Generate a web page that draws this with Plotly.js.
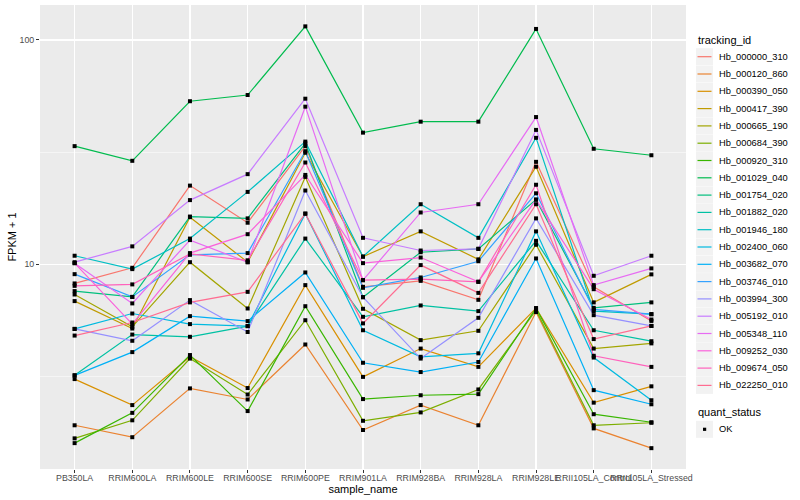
<!DOCTYPE html>
<html><head><meta charset="utf-8">
<script src="https://cdn.plot.ly/plotly-3.0.1.min.js"></script>
<style>html,body{margin:0;padding:0;background:#fff}#chart{width:800px;height:500px}</style>
</head><body><div id="chart"></div>
<script>
const categories = ['PB350LA','RRIM600LA','RRIM600LE','RRIM600SE','RRIM600PE','RRIM901LA','RRIM928BA','RRIM928LA','RRIM928LE','RRII105LA_Control','RRII105LA_Stressed'];

const trackingIds = ['Hb_000000_310','Hb_000120_860','Hb_000390_050','Hb_000417_390','Hb_000665_190','Hb_000684_390','Hb_000920_310','Hb_001029_040','Hb_001754_020','Hb_001882_020','Hb_001946_180','Hb_002400_060','Hb_003682_070','Hb_003746_010','Hb_003994_300','Hb_005192_010','Hb_005348_110','Hb_009252_030','Hb_009674_050','Hb_022250_010'];

const colors = ['#F8766D','#EA8331','#D89000','#C09B00','#A3A500','#7CAE00','#39B600','#00BB4E','#00BF7D','#00C1A3','#00BFC4','#00BAE0','#00B0F6','#35A2FF','#9590FF','#C77CFF','#E76BF3','#FA62DB','#FF62BC','#FF6C91'];

// FPKM + 1 per sample, in category order
const hb_000000_310 = [8.20, 9.63, 22.4, 15.3, 33.6, 7.92, 8.42, 6.93, 28.6, 7.92, 5.58];
const hb_000120_860 = [1.91, 1.69, 2.79, 2.49, 4.38, 1.82, 2.35, 1.91, 6.11, 1.85, 1.51];
const hb_000390_050 = [3.07, 2.35, 3.86, 2.80, 8.06, 3.14, 4.20, 3.48, 6.36, 2.41, 2.85];
const hb_000417_390 = [6.84, 5.16, 16.2, 10.2, 31.4, 10.8, 14.0, 10.5, 27.2, 6.75, 9.00];
const hb_000665_190 = [7.32, 5.25, 10.2, 6.34, 24.5, 6.32, 4.58, 5.04, 12.2, 4.20, 4.43];
const hb_000684_390 = [1.67, 2.01, 3.79, 2.62, 5.62, 2.00, 2.18, 2.76, 6.23, 1.91, 1.96];
const hb_000920_310 = [1.59, 2.17, 3.93, 2.21, 6.49, 2.50, 2.60, 2.63, 6.36, 2.14, 1.97];
const hb_001029_040 = [33.6, 28.9, 53.3, 56.8, 115, 38.6, 43.2, 43.2, 112, 32.7, 30.6];
const hb_001754_020 = [7.58, 7.14, 16.3, 16.0, 34.6, 7.12, 11.3, 11.7, 19.4, 6.38, 6.75];
const hb_001882_020 = [3.19, 4.85, 4.74, 5.29, 13.0, 5.82, 6.54, 6.17, 12.7, 5.07, 4.53];
const hb_001946_180 = [10.9, 9.50, 13.0, 21.0, 35.2, 10.8, 18.5, 13.1, 36.6, 6.17, 5.98];
const hb_002400_060 = [5.14, 6.02, 5.40, 5.29, 16.8, 5.07, 3.86, 4.00, 14.0, 3.83, 2.47];
const hb_003682_070 = [3.19, 4.05, 5.86, 5.57, 9.18, 3.63, 3.30, 3.66, 10.6, 2.74, 2.37];
const hb_003746_010 = [9.02, 7.14, 11.0, 11.2, 31.9, 7.84, 8.72, 10.3, 20.7, 6.28, 5.98];
const hb_003994_300 = [5.14, 4.55, 6.91, 4.98, 21.3, 7.12, 3.79, 5.76, 16.0, 5.92, 5.30];
const hb_005192_010 = [10.2, 12.0, 19.3, 25.2, 54.7, 13.1, 11.5, 11.7, 39.7, 8.87, 10.9];
const hb_005348_110 = [10.1, 6.68, 12.8, 10.2, 50.4, 8.48, 17.0, 18.5, 45.3, 8.06, 9.57];
const hb_009252_030 = [10.1, 5.40, 11.2, 13.6, 25.0, 10.1, 10.7, 8.34, 19.4, 7.73, 5.66];
const hb_009674_050 = [8.00, 8.12, 11.1, 10.4, 28.4, 8.48, 8.57, 8.34, 22.6, 3.90, 3.48];
const hb_022250_010 = [4.80, 5.49, 6.75, 7.52, 16.8, 5.44, 9.90, 7.44, 18.5, 4.63, 5.30];

const seriesValues = [hb_000000_310, hb_000120_860, hb_000390_050, hb_000417_390, hb_000665_190, hb_000684_390, hb_000920_310, hb_001029_040, hb_001754_020, hb_001882_020, hb_001946_180, hb_002400_060, hb_003682_070, hb_003746_010, hb_003994_300, hb_005192_010, hb_005348_110, hb_009252_030, hb_009674_050, hb_022250_010];

const yTickVals = [10, 100];
const yTickText = ['10', '100'];
const quantStatus = ['OK'];

const FONT = 'Liberation Sans, Arial, Helvetica, sans-serif';
const traces = [];
seriesValues.forEach((vals, i) => {
  traces.push({type:'scatter', mode:'lines', x:categories, y:vals, name:trackingIds[i],
    line:{color:colors[i], width:1.2}, showlegend:false, hoverinfo:'x+y+name'});
});
const allX = [], allY = [];
seriesValues.forEach(vals => vals.forEach((v, j) => { allX.push(categories[j]); allY.push(v); }));
traces.push({type:'scatter', mode:'markers', x:allX, y:allY, name:quantStatus[0],
  marker:{color:'#000', size:4, symbol:'square'}, showlegend:false});

// layout geometry (pixels)
const M = {l:40, r:114, t:5, b:31};
const PW = 800 - M.l - M.r, PH = 500 - M.t - M.b;
const px = p => (p - M.l) / PW;
const py = p => (500 - M.b - p) / PH;

const shapes = [], annotations = [];
annotations.push({xref:'paper', yref:'paper', x:px(696), y:py(40.5), xanchor:'left', yanchor:'middle',
  text:'tracking_id', showarrow:false, font:{family:FONT, size:11, color:'#000'}});
trackingIds.forEach((id, i) => {
  const yc = 56.7 + 17.3 * i;
  shapes.push({type:'rect', xref:'paper', yref:'paper', x0:px(696), x1:px(713), y0:py(yc-8.5), y1:py(yc+8.5),
    fillcolor:'#F2F2F2', line:{width:0}});
  shapes.push({type:'line', xref:'paper', yref:'paper', x0:px(697.5), x1:px(711.5), y0:py(yc), y1:py(yc),
    line:{color:colors[i], width:1.2}});
  annotations.push({xref:'paper', yref:'paper', x:px(716.5), y:py(yc), xanchor:'left', yanchor:'middle',
    text:id, showarrow:false, font:{family:FONT, size:9.3, color:'#000'}});
});
annotations.push({xref:'paper', yref:'paper', x:px(696), y:py(412.3), xanchor:'left', yanchor:'middle',
  text:'quant_status', showarrow:false, font:{family:FONT, size:11, color:'#000'}});
const okY = 429.3;
shapes.push({type:'rect', xref:'paper', yref:'paper', x0:px(696), x1:px(713), y0:py(okY-8.5), y1:py(okY+8.5),
  fillcolor:'#F2F2F2', line:{width:0}});
shapes.push({type:'rect', xref:'paper', yref:'paper', x0:px(703), x1:px(706.2), y0:py(okY-1.6), y1:py(okY+1.6),
  fillcolor:'#000', line:{width:0}});
annotations.push({xref:'paper', yref:'paper', x:px(716.5), y:py(okY), xanchor:'left', yanchor:'middle',
  text:quantStatus[0], showarrow:false, font:{family:FONT, size:9.3, color:'#000'}});

const layout = {
  width:800, height:500, margin:M, paper_bgcolor:'#fff', plot_bgcolor:'#EBEBEB',
  font:{family:FONT, color:'#000'}, showlegend:false,
  xaxis:{type:'category', range:[-0.6, 10.6], showgrid:true, gridcolor:'#fff', gridwidth:1.1,
    zeroline:false, showline:false, ticks:'outside', ticklen:3, tickcolor:'#333', tickwidth:1,
    tickangle:0, ticklabelstandoff:-3, tickfont:{family:FONT, size:8.8, color:'#4D4D4D'},
    title:{text:'sample_name', font:{family:FONT, size:11, color:'#000'}, standoff:0}},
  yaxis:{type:'log', range:[0.086, 2.156], tickmode:'array', tickvals:yTickVals, ticktext:yTickText,
    showgrid:true, gridcolor:'#fff', gridwidth:1.1, zeroline:false, showline:false,
    ticks:'outside', ticklen:3, tickcolor:'#333', tickwidth:1,
    tickfont:{family:FONT, size:8.8, color:'#4D4D4D'},
    minor:{tickmode:'array', tickvals:[3.1623, 31.623], showgrid:true, gridcolor:'#fff', gridwidth:0.5, ticks:''},
    title:{text:'FPKM + 1', font:{family:FONT, size:11, color:'#000'}, standoff:0}},
  shapes:shapes, annotations:annotations
};
Plotly.newPlot('chart', traces, layout, {displayModeBar:false, staticPlot:true});
</script></body></html>
